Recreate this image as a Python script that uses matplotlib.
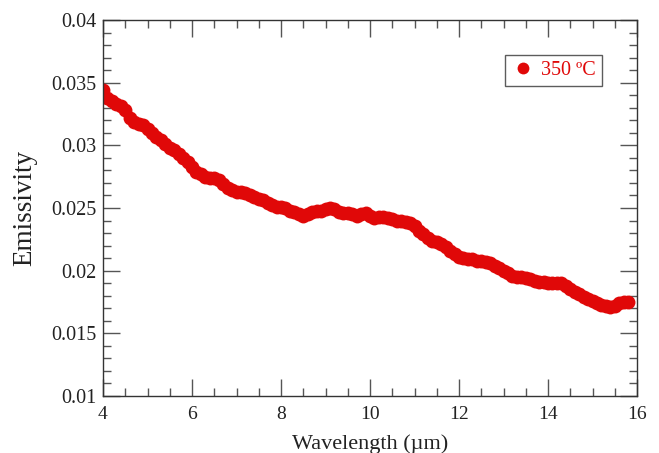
import matplotlib
matplotlib.use("Agg")
import matplotlib.pyplot as plt
from matplotlib.ticker import MultipleLocator, FuncFormatter

# Emissivity at 350 ºC
emissivity = [
    0.0344, 0.0338, 0.0335, 0.0333, 0.0331, 0.0328, 0.0322, 0.0319, 0.0317, 0.0316,
    0.0313, 0.0310, 0.0307, 0.0304, 0.0301, 0.0298, 0.0296, 0.0293, 0.0290, 0.0287,
    0.0283, 0.0279, 0.0277, 0.0275, 0.0274, 0.0274, 0.0272, 0.0269, 0.0266, 0.0264,
    0.0263, 0.0263, 0.0262, 0.0260, 0.0259, 0.0257, 0.0256, 0.0254, 0.0252, 0.0251,
    0.0251, 0.0250, 0.0248, 0.0247, 0.0245, 0.0244, 0.0245, 0.0247, 0.0248, 0.0248,
    0.0249, 0.0250, 0.0249, 0.0247, 0.0246, 0.0246, 0.0245, 0.0244, 0.0245, 0.0246,
    0.0244, 0.0242, 0.0243, 0.0243, 0.0242, 0.0241, 0.0240, 0.0240, 0.0239, 0.0238,
    0.0236, 0.0232, 0.0229, 0.0226, 0.0224, 0.0223, 0.0221, 0.0219, 0.0216, 0.0213,
    0.0211, 0.0210, 0.0209, 0.0209, 0.0208, 0.0208, 0.0207, 0.0206, 0.0204, 0.0202,
    0.0200, 0.0198, 0.0196, 0.0195, 0.0195, 0.0194, 0.0193, 0.0192, 0.0191, 0.0191,
    0.0190, 0.0190, 0.0190, 0.0190, 0.0188, 0.0185, 0.0183, 0.0181, 0.0179, 0.0177,
    0.0176, 0.0174, 0.0173, 0.0172, 0.0171, 0.0172, 0.0174, 0.0175, 0.0175,
]
wavelength = [round(4.0 + 0.1 * i, 1) for i in range(len(emissivity))]

series_label = "350 ºC"
x_ticks = [4, 6, 8, 10, 12, 14, 16]
y_ticks = [0.01, 0.015, 0.02, 0.025, 0.03, 0.035, 0.04]

plt.rcParams['font.family'] = ['Liberation Serif', 'DejaVu Serif']
red = '#e00808'
txt = '#222222'

fig = plt.figure(figsize=(6.59, 4.53), dpi=100)
ax = fig.add_axes([103/659, 1 - 396/453, (637-103)/659, (396-20)/453])

ax.plot(wavelength, emissivity, 'o', color=red, markersize=10, markeredgewidth=0,
        label=series_label)

ax.set_xlim(4, 16)
ax.set_ylim(0.01, 0.04)
ax.set_xticks(x_ticks)
ax.set_yticks(y_ticks)
ax.xaxis.set_minor_locator(MultipleLocator(0.5))
ax.yaxis.set_minor_locator(MultipleLocator(0.001))
ax.yaxis.set_major_formatter(FuncFormatter(lambda v, p: f"{v:g}"))

ax.tick_params(which='both', direction='in', top=True, right=True, color='#555555',
               labelcolor=txt, labelsize=14.5)
ax.tick_params(which='major', length=12, width=1)
ax.tick_params(which='minor', length=6, width=1)
ax.tick_params(axis='x', pad=7, labelsize=14)
ax.tick_params(axis='y', pad=5)
for s in ax.spines.values():
    s.set_color('#333333')
    s.set_linewidth(1)

ax.set_xlabel("Wavelength (µm)", fontsize=16, color=txt, labelpad=8)
ax.set_ylabel("Emissivity", fontsize=19.5, color=txt, labelpad=10)

leg = ax.legend(loc='upper right', bbox_to_anchor=((602-103)/534, 1 - (55-20)/376),
                frameon=True, fontsize=14.5, handletextpad=0.3, borderpad=0.3,
                handlelength=1.2, markerscale=0.85, fancybox=False, borderaxespad=0)
leg.get_frame().set_edgecolor('#333333')
leg.get_frame().set_linewidth(1)
for t in leg.get_texts():
    t.set_color(red)

fig.savefig("out.png", dpi=100)
